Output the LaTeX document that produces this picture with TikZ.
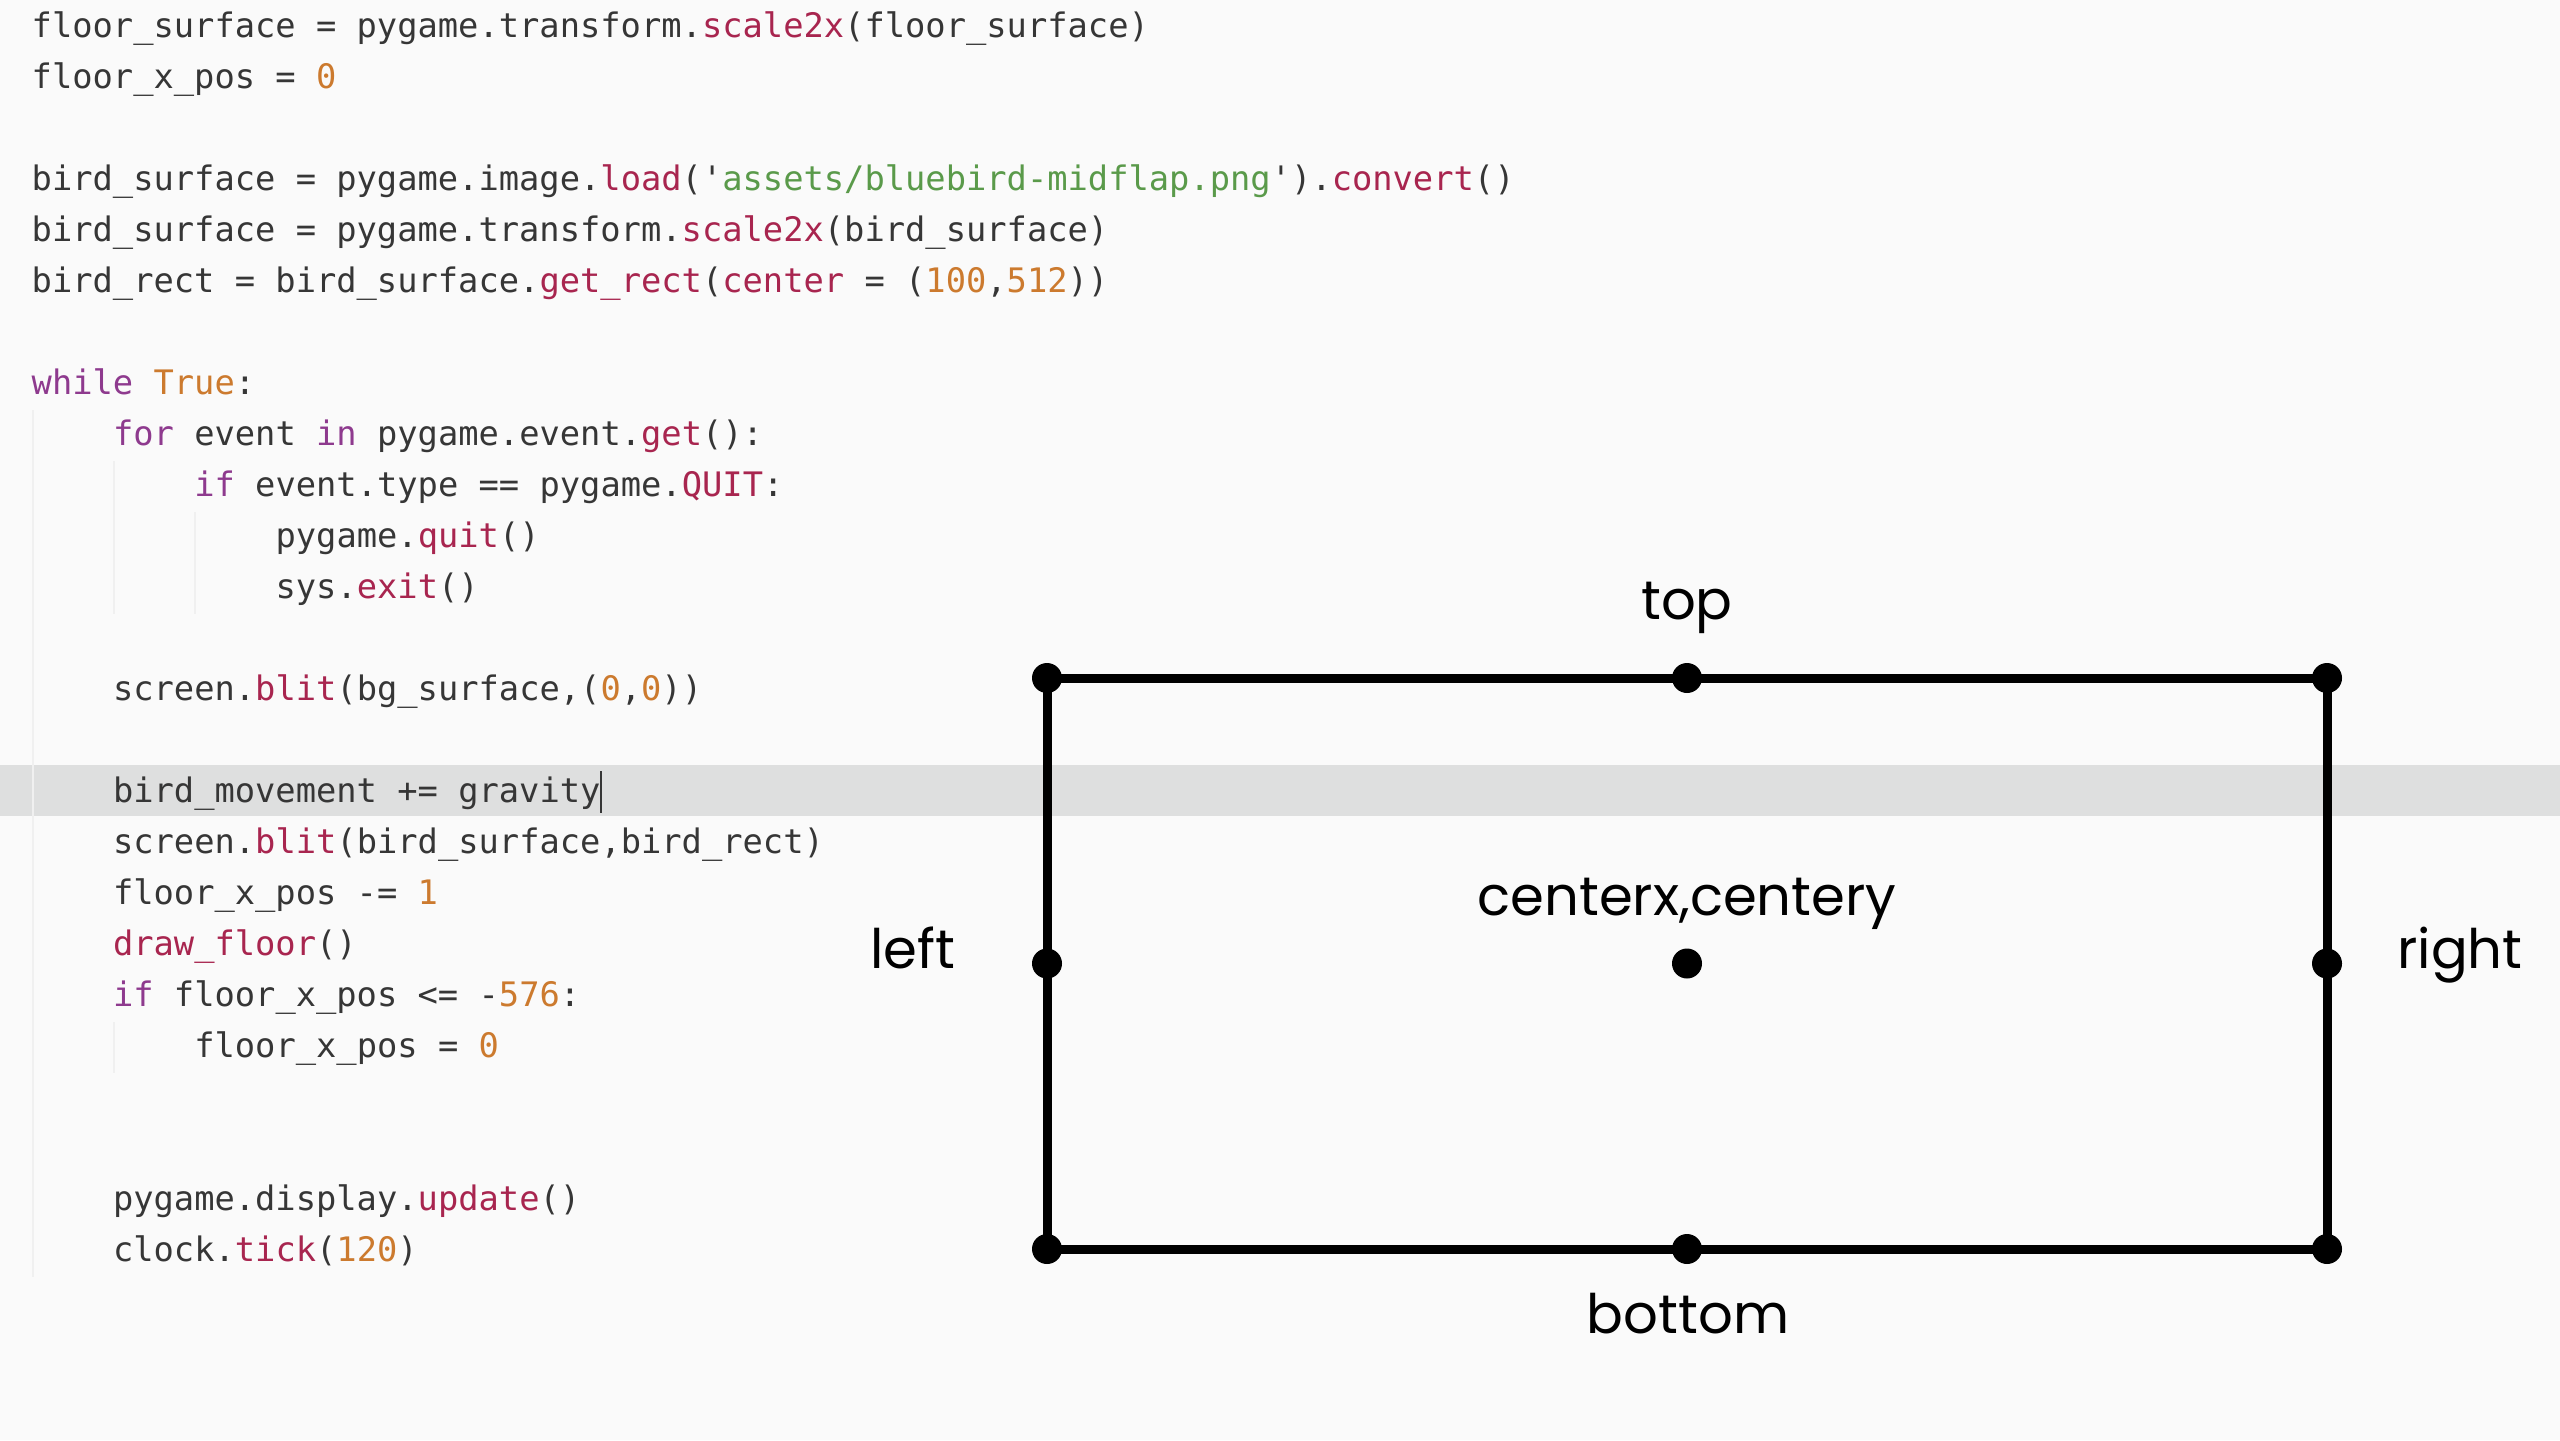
\documentclass[tikz,border=0pt]{standalone}
\usepackage{fontspec}
\usepackage{tikz}
\setmonofont{DejaVu Sans Mono}
\newfontfamily\lblfont{Poppins}

\definecolor{bgcol}{HTML}{FAFAFA}
\definecolor{bandcol}{HTML}{DEDFDF}
\definecolor{guidecol}{HTML}{F0F0F0}
\definecolor{txtcol}{HTML}{363636}
\definecolor{kwcol}{HTML}{8E3A8E}
\definecolor{fncol}{HTML}{A8254F}
\definecolor{numcol}{HTML}{CC7A2E}
\definecolor{strcol}{HTML}{5A9A4A}

\newcommand{\ckw}[1]{\textcolor{kwcol}{#1}}
\newcommand{\cfn}[1]{\textcolor{fncol}{#1}}
\newcommand{\cnum}[1]{\textcolor{numcol}{#1}}
\newcommand{\cstr}[1]{\textcolor{strcol}{#1}}

\tikzset{
  codeline/.style={anchor=base west,inner sep=0pt,text=txtcol,
    font=\ttfamily\fontsize{9.6pt}{12pt}\selectfont},
  lbl/.style={anchor=base,inner sep=0pt,
    font=\lblfont\fontsize{15.5pt}{18pt}\selectfont},
  guide/.style={guidecol,line width=0.015cm},
  rectedge/.style={line width=0.09cm},
  pt/.style={circle,fill=black,inner sep=0pt,minimum size=0.3cm}
}

\begin{document}
\begin{tikzpicture}
\fill[bgcol] (0,0) rectangle (25.6,-14.4);
\fill[bandcol] (0,-7.65) rectangle (25.6,-8.16);

% indent guides
\draw[guide] (0.33,-4.10) -- (0.33,-12.77);
\draw[guide] (1.14,-4.61) -- (1.14,-6.14);
\draw[guide] (1.14,-10.22) -- (1.14,-10.73);
\draw[guide] (1.95,-5.12) -- (1.95,-6.14);

\foreach \n/\i/\txt in {
 1/0/{floor\_surface = pygame.transform.\cfn{scale2x}(floor\_surface)},
 2/0/{floor\_x\_pos = \cnum{0}},
 4/0/{bird\_surface = pygame.image.\cfn{load}('\cstr{assets/bluebird-midflap.png}').\cfn{convert}()},
 5/0/{bird\_surface = pygame.transform.\cfn{scale2x}(bird\_surface)},
 6/0/{bird\_rect = bird\_surface.\cfn{get\_rect}(\cfn{center} = (\cnum{100},\cnum{512}))},
 8/0/{\ckw{while} \cnum{True}:},
 9/1/{\ckw{for} event \ckw{in} pygame.event.\cfn{get}():},
 10/2/{\ckw{if} event.type == pygame.\cfn{QUIT}:},
 11/3/{pygame.\cfn{quit}()},
 12/3/{sys.\cfn{exit}()},
 14/1/{screen.\cfn{blit}(bg\_surface,(\cnum{0},\cnum{0}))},
 16/1/{bird\_movement += gravity},
 17/1/{screen.\cfn{blit}(bird\_surface,bird\_rect)},
 18/1/{floor\_x\_pos -= \cnum{1}},
 19/1/{\cfn{draw\_floor}()},
 20/1/{\ckw{if} floor\_x\_pos <= -\cnum{576}:},
 21/2/{floor\_x\_pos = \cnum{0}},
 24/1/{pygame.display.\cfn{update}()},
 25/1/{clock.\cfn{tick}(\cnum{120})}}
{
\node[codeline] (code\n) at ({0.31+0.813*\i},{-0.375-0.5102*(\n-1)}) {\txt};
}

% cursor
\draw[txtcol,line width=0.02cm] ([yshift=-0.1cm]code16.base east) -- ([yshift=0.32cm]code16.base east);

% rect points
\node[pt] (tl) at (10.47,-6.78) {};
\node[pt] (tm) at (16.87,-6.78) {};
\node[pt] (tr) at (23.27,-6.78) {};
\node[pt] (ml) at (10.47,-9.635) {};
\node[pt] (cc) at (16.87,-9.635) {};
\node[pt] (mr) at (23.27,-9.635) {};
\node[pt] (bl) at (10.47,-12.49) {};
\node[pt] (bm) at (16.87,-12.49) {};
\node[pt] (br) at (23.27,-12.49) {};

\draw[rectedge] (tl.center) -- (tm.center) -- (tr.center) -- (mr.center) -- (br.center)
  -- (bm.center) -- (bl.center) -- (ml.center) -- cycle;

\node[lbl] (toplbl) at (16.87,-6.19) {top};
\node[lbl] (centerlbl) at (16.87,-9.15) {centerx,centery};
\node[lbl] (leftlbl) at (9.13,-9.68) {left};
\node[lbl] (rightlbl) at (24.60,-9.68) {right};
\node[lbl] (bottomlbl) at (16.88,-13.33) {bottom};
\end{tikzpicture}
\end{document}
